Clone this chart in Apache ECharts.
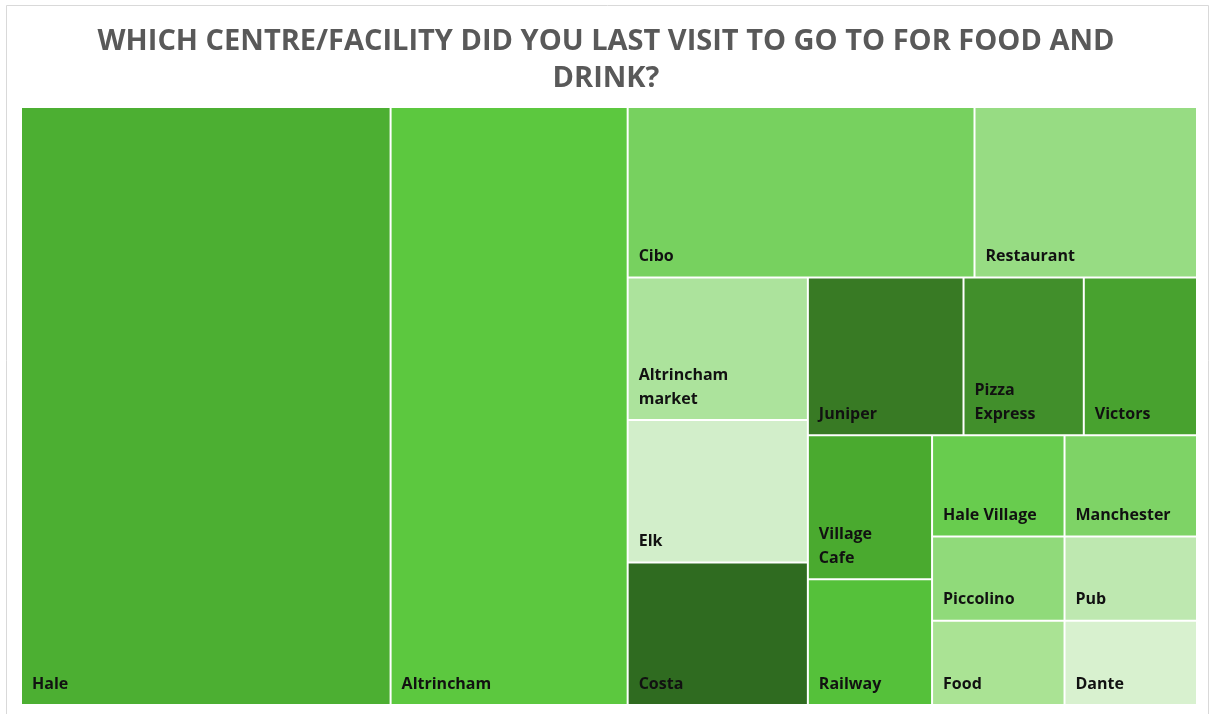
<!DOCTYPE html>
<html>
<head>
<meta charset="utf-8">
<script src="https://cdn.jsdelivr.net/npm/echarts@6/dist/echarts.min.js"></script>
<style>
  html, body { margin: 0; padding: 0; background: #ffffff; }
  #chart { width: 1212px; height: 714px; }
</style>
</head>
<body>
<div id="chart"></div>
<script>
// Categories in the order they appear in the reference (largest first)
const categories = ['Hale', 'Altrincham', 'Cibo', 'Restaurant', 'Altrincham market', 'Elk', 'Costa',
  'Juniper', 'Pizza Express', 'Victors', 'Village Cafe', 'Railway', 'Hale Village', 'Manchester',
  'Piccolino', 'Food', 'Pub', 'Dante'];
// Estimated responses
const values = [198, 127, 53, 34, 23, 23, 23, 22, 17, 16, 16, 14, 12, 12, 10, 10, 10, 10];
// Label text as wrapped in the reference
const labelTexts = ['Hale', 'Altrincham', 'Cibo', 'Restaurant', 'Altrincham\nmarket', 'Elk', 'Costa',
  'Juniper', 'Pizza\nExpress', 'Victors', 'Village\nCafe', 'Railway', 'Hale Village', 'Manchester',
  'Piccolino', 'Food', 'Pub', 'Dante'];
const colors = ['#4caf32', '#5cc83f', '#77d15f', '#97dc83', '#ace39c', '#d2eeca', '#2f6b20',
  '#387a24', '#418f2b', '#48a22f', '#4aaa2f', '#55c13a', '#68cc4e', '#7ed366',
  '#90da7a', '#aae394', '#bee8b0', '#d8f1cf'];
const titleLines = ['WHICH CENTRE/FACILITY DID YOU LAST VISIT TO GO TO FOR FOOD AND', 'DRINK?'];

const chart = echarts.init(document.getElementById('chart'), null, { renderer: 'canvas' });
const data = categories.map((name, i) => ({
  name: name,
  value: values[i],
  label: { formatter: labelTexts[i] },
  itemStyle: { color: colors[i] }
}));

const titleStyle = {
  fontFamily: 'Open Sans',
  fontSize: 29,
  fontWeight: 'bold',
  color: '#595959'
};

chart.setOption({
  animation: false,
  backgroundColor: '#ffffff',
  title: titleLines.map((t, i) => ({
    text: t,
    left: 'center',
    top: 27 + i * 37,
    padding: 0,
    textStyle: titleStyle
  })),
  graphic: [{
    type: 'rect',
    shape: { x: 6.5, y: 5.5, width: 1202, height: 712 },
    style: { fill: 'none', stroke: '#d9d9d9', lineWidth: 1 },
    silent: true
  }],
  series: [{
    type: 'treemap',
    left: 22,
    top: 108,
    width: 1174,
    height: 596,
    roam: false,
    nodeClick: false,
    sort: false,
    squareRatio: 0.858,
    breadcrumb: { show: false },
    levels: [{ itemStyle: { borderWidth: 0, gapWidth: 2, borderColor: '#ffffff' } }],
    itemStyle: { borderWidth: 0, gapWidth: 2, borderColor: '#ffffff' },
    label: {
      show: true,
      position: 'insideBottomLeft',
      distance: 0,
      padding: [0, 0, 8, 10],
      fontFamily: 'Open Sans',
      fontSize: 16,
      fontWeight: 'bold',
      color: '#111111',
      lineHeight: 24
    },
    emphasis: { disabled: true },
    data: data
  }]
});
</script>
</body>
</html>
